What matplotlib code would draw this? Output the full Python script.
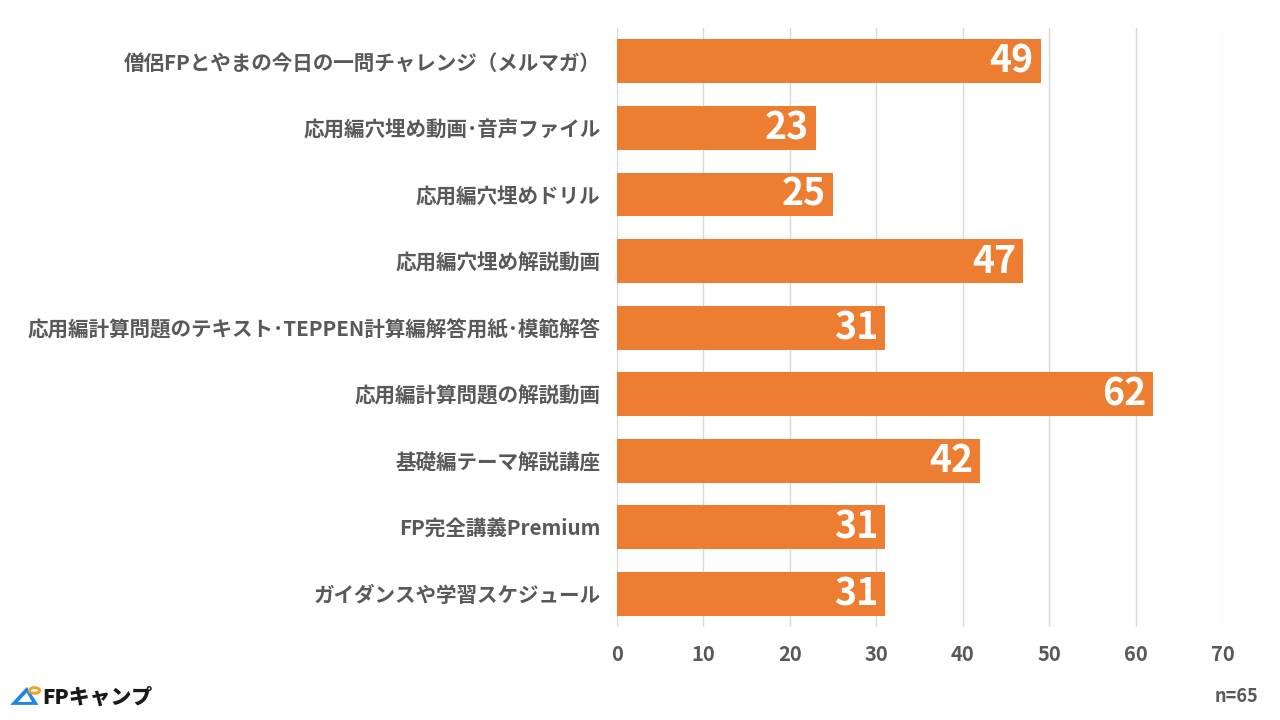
import matplotlib
matplotlib.use("Agg")
import matplotlib.pyplot as plt
from matplotlib.patches import Polygon, Circle

plt.rcParams['font.family'] = ['Noto Sans CJK JP', 'DejaVu Sans']

categories = [
    "僧侶FPとやまの今日の一問チャレンジ（メルマガ）",
    "応用編穴埋め動画･音声ファイル",
    "応用編穴埋めドリル",
    "応用編穴埋め解説動画",
    "応用編計算問題のテキスト･TEPPEN計算編解答用紙･模範解答",
    "応用編計算問題の解説動画",
    "基礎編テーマ解説講座",
    "FP完全講義Premium",
    "ガイダンスや学習スケジュール",
]
values = [49, 23, 25, 47, 31, 62, 42, 31, 31]
xticks = [0, 10, 20, 30, 40, 50, 60, 70]
note = "n=65"

bar_color = "#ED7D31"
text_color = "#595959"

fig = plt.figure(figsize=(12.8, 7.2), dpi=100)
ax = fig.add_axes([0.482, 0.129, 0.473, 0.832])

ypos = list(range(len(categories)))
ax.barh(ypos, values, height=0.66, color=bar_color, zorder=3)
ax.set_ylim(len(categories) - 0.5, -0.5)
ax.set_xlim(0, 70)
ax.set_xticks(xticks)
ax.set_xticklabels([str(t) for t in xticks], fontsize=14.5, fontweight='bold', color=text_color)
ax.set_yticks(ypos)
ax.set_yticklabels(categories, fontsize=14.8, fontweight='bold', color=text_color)
ax.tick_params(axis='both', length=0)
ax.tick_params(axis='x', pad=12)
ax.tick_params(axis='y', pad=12)
ax.grid(axis='x', color='#D9D9D9', linewidth=1, zorder=0)
for s in ax.spines.values():
    s.set_visible(False)

for y, v in zip(ypos, values):
    ax.text(v - 0.8, y, str(v), ha='right', va='center', color='white',
            fontsize=27, fontweight='bold', zorder=4)

fig.text(0.983, 0.033, note, ha='right', va='center', fontsize=13,
         fontweight='bold', color=text_color)

# logo
fig.patches.append(Polygon([[0.008, 0.021], [0.021, 0.046], [0.030, 0.021]],
                           closed=True, transform=fig.transFigure,
                           facecolor='#1E88E5', edgecolor='none'))
fig.patches.append(Polygon([[0.014, 0.025], [0.021, 0.038], [0.025, 0.025]],
                           closed=True, transform=fig.transFigure,
                           facecolor='white', edgecolor='none'))
fig.patches.append(Circle((0.027, 0.041), 0.004, transform=fig.transFigure,
                          facecolor='none', edgecolor='#F4A020', linewidth=2))
fig.text(0.033, 0.031, "FPキャンプ", ha='left', va='center', fontsize=15,
         fontweight='heavy', color='#1a1a1a')

fig.savefig("out.png", dpi=100)
